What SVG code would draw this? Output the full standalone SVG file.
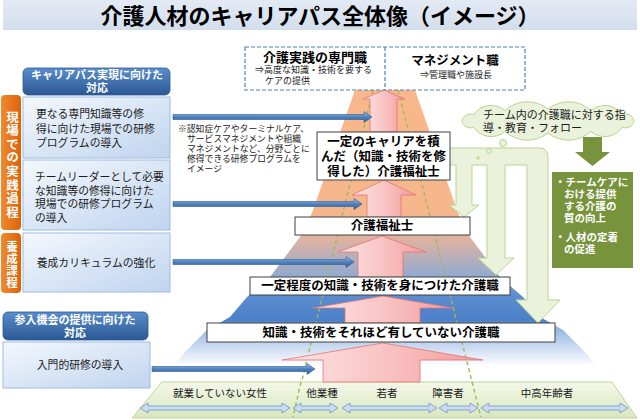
<svg xmlns="http://www.w3.org/2000/svg" width="640" height="420" viewBox="0 0 640 420">
<defs>
  <linearGradient id="gTitle" x1="0" y1="0" x2="0" y2="1">
    <stop offset="0" stop-color="#e3eaf4"/><stop offset="1" stop-color="#d3deec"/>
  </linearGradient>
  <linearGradient id="gPyr" gradientUnits="userSpaceOnUse" x1="0" y1="90" x2="0" y2="366">
    <stop offset="0" stop-color="#f8b88b"/>
    <stop offset="0.45" stop-color="#f6b68c"/>
    <stop offset="0.545" stop-color="#dcb2a2"/>
    <stop offset="0.67" stop-color="#94abd0"/>
    <stop offset="0.745" stop-color="#5b8dd0"/>
    <stop offset="0.835" stop-color="#4b7fc8"/>
    <stop offset="0.86" stop-color="#93b4e2"/>
    <stop offset="1" stop-color="#ffffff"/>
  </linearGradient>
  <linearGradient id="gPink" x1="0" y1="0" x2="1" y2="0">
    <stop offset="0" stop-color="#fde3e3"/><stop offset="0.5" stop-color="#f9c4c4"/><stop offset="1" stop-color="#f29c9c"/>
  </linearGradient>
  <linearGradient id="gBlue" x1="0" y1="0" x2="0" y2="1">
    <stop offset="0" stop-color="#a3c2ea"/><stop offset="0.5" stop-color="#4f81bd"/><stop offset="1" stop-color="#2f5f9a"/>
  </linearGradient>
  <linearGradient id="gLbox" x1="0" y1="0" x2="1" y2="1">
    <stop offset="0" stop-color="#f4f8fd"/><stop offset="1" stop-color="#bfd4ef"/>
  </linearGradient>
  <linearGradient id="gHdr" x1="0" y1="0" x2="0" y2="1">
    <stop offset="0" stop-color="#5b8dcc"/><stop offset="1" stop-color="#2a5894"/>
  </linearGradient>
  <linearGradient id="gOrg" x1="0" y1="0" x2="1" y2="0">
    <stop offset="0" stop-color="#f08a2e"/><stop offset="1" stop-color="#dd620a"/>
  </linearGradient>
  <linearGradient id="gBand" x1="0" y1="0" x2="0" y2="1">
    <stop offset="0" stop-color="#f3f8e8"/><stop offset="1" stop-color="#d9e7bf"/>
  </linearGradient>
</defs>
<style>
  text { font-family: "Liberation Sans", "Noto Sans CJK JP", sans-serif; dominant-baseline: central; }
  .lvl { fill: #ffffff; stroke: #404040; stroke-width: 1; }
  .lvt { font-size: 12.5px; font-weight: bold; fill: #000; text-anchor: middle; }
  .pink { fill: url(#gPink); stroke: #e27575; stroke-width: 0.8; }
  .barrow { fill: url(#gBlue); stroke: #2b5a93; stroke-width: 0.6; }
  .lbox { fill: url(#gLbox); stroke: #9dbbe2; stroke-width: 1; }
  .lbt { font-size: 10.8px; fill: #1a1a1a; }
  .hdr { fill: url(#gHdr); stroke: #2a5894; stroke-width: 0.8; }
  .hdt { font-size: 11px; font-weight: bold; fill: #ffffff; text-anchor: middle; }
  .org { fill: url(#gOrg); }
  .ort { font-weight: bold; fill: #ffffff; text-anchor: middle; writing-mode: vertical-rl; dominant-baseline: auto; }
  .note { font-size: 8.8px; fill: #1a1a1a; }
  .dbl { fill: #c9dcf3; stroke: #6f96c8; stroke-width: 0.8; }
  .bandt { font-size: 10.5px; fill: #1a1a1a; text-anchor: middle; }
  .gdash { fill: none; stroke: #9bbb59; stroke-width: 1.4; stroke-dasharray: 4 3; }
  .pale { fill: #ebf2dc; stroke: #bcd38f; stroke-width: 1; }
  .gbt { font-size: 10.5px; font-weight: bold; fill: #ffffff; }
</style>

<!-- title -->
<g id="title">
  <rect x="3" y="0" width="634" height="30" fill="url(#gTitle)"/>
  <text x="320" y="16" font-size="22" font-weight="bold" text-anchor="middle" fill="#000">介護人材のキャリアパス全体像（イメージ）</text>
</g>

<!-- pyramid -->
<g id="pyramid">
  <polygon fill="url(#gPyr)" points="355,90 327,170 312,213 300,237 270,277 247,297 230,317 207,330 187,350 173,366 597,366 583,350 563,330 540,317 523,297 500,277 470,237 458,213 443,170 415,90"/>
  <line class="gdash" x1="373" y1="90" x2="293" y2="417"/>
  <line class="gdash" x1="398" y1="90" x2="481" y2="417"/>
</g>

<!-- bottom band -->
<g id="band">
  <polygon points="162,382 612,382 637,418 132,418" fill="url(#gBand)" stroke="#c0d596" stroke-width="1"/>
  <line class="gdash" x1="301" y1="382" x2="293" y2="417"/>
  <line class="gdash" x1="472" y1="382" x2="481" y2="417"/>
  <text class="bandt" x="220" y="393">就業していない女性</text>
  <text class="bandt" x="322" y="393">他業種</text>
  <text class="bandt" x="387" y="393">若者</text>
  <text class="bandt" x="448" y="393">障害者</text>
  <text class="bandt" x="547" y="393">中高年齢者</text>
  <path class="dbl" d="M140,408 L148,403 L148,406 L282,406 L282,403 L290,408 L282,413 L282,410 L148,410 L148,413 Z"/>
  <path class="dbl" d="M293,408 L301,403 L301,406 L330,406 L330,403 L338,408 L330,413 L330,410 L301,410 L301,413 Z"/>
  <path class="dbl" d="M342,408 L350,403 L350,406 L429,406 L429,403 L437,408 L429,413 L429,410 L350,410 L350,413 Z"/>
  <path class="dbl" d="M439,408 L447,403 L447,406 L470,406 L470,403 L478,408 L470,413 L470,410 L447,410 L447,413 Z"/>
  <path class="dbl" d="M481,408 L489,403 L489,406 L620,406 L620,403 L628,408 L620,413 L620,410 L489,410 L489,413 Z"/>
</g>

<!-- connectors -->
<g id="connectors">
  <path class="pink" d="M323,382 L323,360 L282,360 L383,343 L483,360 L420,360 L420,382 Z"/>
  <path class="pink" d="M345,323 L345,308 L313,308 L383,296 L453,308 L420,308 L420,323 Z"/>
  <path class="pink" d="M358,277 L358,252 L338,252 L382,236 L426,252 L403,252 L403,277 Z"/>
  <path class="pink" d="M367,217 L367,195 L352,195 L384,180 L416,195 L401,195 L401,217 Z"/>
  <path class="pink" d="M370,132 L370,99 L363,99 L384,90 L405,99 L397,99 L397,132 Z"/>
  <path class="pale" d="M445,148 L539,148 Q548,148 548,157 L548,300 L560,300 L538,323 L516,300 L527,300 L527,165 L505,165 L505,258 L514,258 L496,275 L478,258 L487,258 L487,165 L472,165 L472,205 L479,205 L464,217 L449,205 L456,205 L456,165 L445,165 Z"/>
  <circle class="pale" cx="503" cy="143" r="3.5"/>
  <circle class="pale" cx="489" cy="151" r="2.3"/>
  <circle class="pale" cx="478" cy="158" r="1.3"/>
  <path fill="#77933c" d="M583,137 L602,137 L602,152 L610,152 L592.5,166 L575,152 L583,152 Z"/>
  <path class="barrow" d="M173,114.5 L364,114.5 L364,111.5 L372,117 L364,122.5 L364,119.5 L173,119.5 Z"/>
  <path class="barrow" d="M173,201.5 L354,201.5 L354,198.5 L362,204 L354,209.5 L354,206.5 L173,206.5 Z"/>
  <path class="barrow" d="M173,259.5 L346,259.5 L346,256.5 L354,262 L346,267.5 L346,264.5 L173,264.5 Z"/>
  <path class="barrow" d="M152,366.5 L307,366.5 L307,363.5 L315,369 L307,374.5 L307,371.5 L152,371.5 Z"/>
</g>

<!-- top dashed box -->
<g id="goal">
  <rect x="245" y="47" width="280" height="43" fill="#ffffff" stroke="#4f81bd" stroke-width="1.2" stroke-dasharray="4 2"/>
  <line x1="385" y1="47" x2="385" y2="90" stroke="#4f81bd" stroke-width="1.2" stroke-dasharray="4 2"/>
  <text x="315" y="57" font-size="13" font-weight="bold" text-anchor="middle" fill="#000">介護実践の専門職</text>
  <text x="255" y="70" font-size="9" fill="#1a1a1a">⇒高度な知識・技術を要する</text>
  <text x="265" y="81" font-size="9" fill="#1a1a1a">ケアの提供</text>
  <text x="455" y="61" font-size="12.5" font-weight="bold" text-anchor="middle" fill="#000">マネジメント職</text>
  <text x="456" y="75" font-size="9" text-anchor="middle" fill="#1a1a1a">⇒管理職や施設長</text>
</g>

<!-- levels -->
<g id="lvl-career">
  <rect class="lvl" x="317" y="132" width="133" height="48"/>
  <text class="lvt" x="383.5" y="142">一定のキャリアを積</text>
  <text class="lvt" x="383.5" y="157">んだ（知識・技術を修</text>
  <text class="lvt" x="383.5" y="172">得した）介護福祉士</text>
</g>
<g id="lvl-kaigo">
  <rect class="lvl" x="295" y="217" width="175" height="18"/>
  <text class="lvt" x="382" y="226" font-size="13">介護福祉士</text>
</g>
<g id="lvl-mid">
  <rect class="lvl" x="250" y="277" width="260" height="18"/>
  <text class="lvt" x="380" y="286">一定程度の知識・技術を身につけた介護職</text>
</g>
<g id="lvl-entry">
  <rect class="lvl" x="207" y="323" width="348" height="19"/>
  <text class="lvt" x="381" y="332.5">知識・技術をそれほど有していない介護職</text>
</g>

<!-- note -->
<g id="note">
  <text class="note" x="178" y="129">※認知症ケアやターミナルケア、</text>
  <text class="note" x="187" y="139">サービスマネジメントや組織</text>
  <text class="note" x="187" y="149">マネジメントなど、分野ごとに</text>
  <text class="note" x="187" y="159">修得できる研修プログラムを</text>
  <text class="note" x="187" y="169">イメージ</text>
</g>

<!-- cloud -->
<g id="cloud">
  <path class="pale" d="M634,121 A8,8 0 0 1 622.5,127 A21,21 0 0 1 591,131.4 A33,33 0 0 1 548,133 A33,33 0 0 1 505,131.4 A21,21 0 0 1 473.5,127 A8,8 0 0 1 462,121 A8,8 0 0 1 473.5,115 A21,21 0 0 1 505,110.6 A33,33 0 0 1 548,109 A33,33 0 0 1 591,110.6 A21,21 0 0 1 622.5,115 A8,8 0 0 1 634,121 Z"/>
  <text x="483" y="115" font-size="11" fill="#1a1a1a">チーム内の介護職に対する指</text>
  <text x="483" y="128" font-size="11" fill="#1a1a1a">導・教育・フォロー</text>
</g>

<!-- green result box -->
<g id="result">
  <rect x="552" y="172" width="81" height="96" fill="#77933c"/>
  <text class="gbt" x="555" y="182">・チームケアに</text>
  <text class="gbt" x="564" y="194">おける提供</text>
  <text class="gbt" x="564" y="206">する介護の</text>
  <text class="gbt" x="564" y="218">質の向上</text>
  <text class="gbt" x="555" y="237">・人材の定着</text>
  <text class="gbt" x="564" y="249">の促進</text>
</g>

<!-- left panel -->
<g id="side-practice">
  <rect class="org" x="1" y="95" width="20" height="135" rx="4"/>
  <text class="ort" x="11" y="165" font-size="12.5" letter-spacing="1.1">現場での実践過程</text>
</g>
<g id="side-training">
  <rect class="org" x="1" y="233" width="20" height="60" rx="4"/>
  <text class="ort" x="11" y="265" font-size="11.5" letter-spacing="0.5">養成課程</text>
</g>
<g id="hdr-career">
  <rect class="hdr" x="23" y="68" width="147" height="27" rx="5"/>
  <text class="hdt" x="97" y="75">キャリアパス実現に向けた</text>
  <text class="hdt" x="97" y="88">対応</text>
</g>
<g id="box-expert">
  <rect class="lbox" x="23" y="97" width="147" height="61"/>
  <text class="lbt" x="36" y="114">更なる専門知識等の修</text>
  <text class="lbt" x="36" y="128.5">得に向けた現場での研修</text>
  <text class="lbt" x="36" y="143">プログラムの導入</text>
</g>
<g id="box-leader">
  <rect class="lbox" x="23" y="160" width="147" height="70"/>
  <text class="lbt" x="35" y="177">チームリーダーとして必要</text>
  <text class="lbt" x="35" y="190.5">な知識等の修得に向けた</text>
  <text class="lbt" x="35" y="204">現場での研修プログラム</text>
  <text class="lbt" x="35" y="217.5">の導入</text>
</g>
<g id="box-curriculum">
  <rect class="lbox" x="23" y="233" width="147" height="59"/>
  <text class="lbt" x="96" y="263" text-anchor="middle">養成カリキュラムの強化</text>
</g>
<g id="hdr-entry">
  <rect class="hdr" x="3" y="312" width="145" height="28" rx="5"/>
  <text class="hdt" x="75" y="320">参入機会の提供に向けた</text>
  <text class="hdt" x="75" y="333">対応</text>
</g>
<g id="box-intro">
  <rect class="lbox" x="3" y="342" width="147" height="46"/>
  <text class="lbt" x="80" y="365" text-anchor="middle">入門的研修の導入</text>
</g>
</svg>
